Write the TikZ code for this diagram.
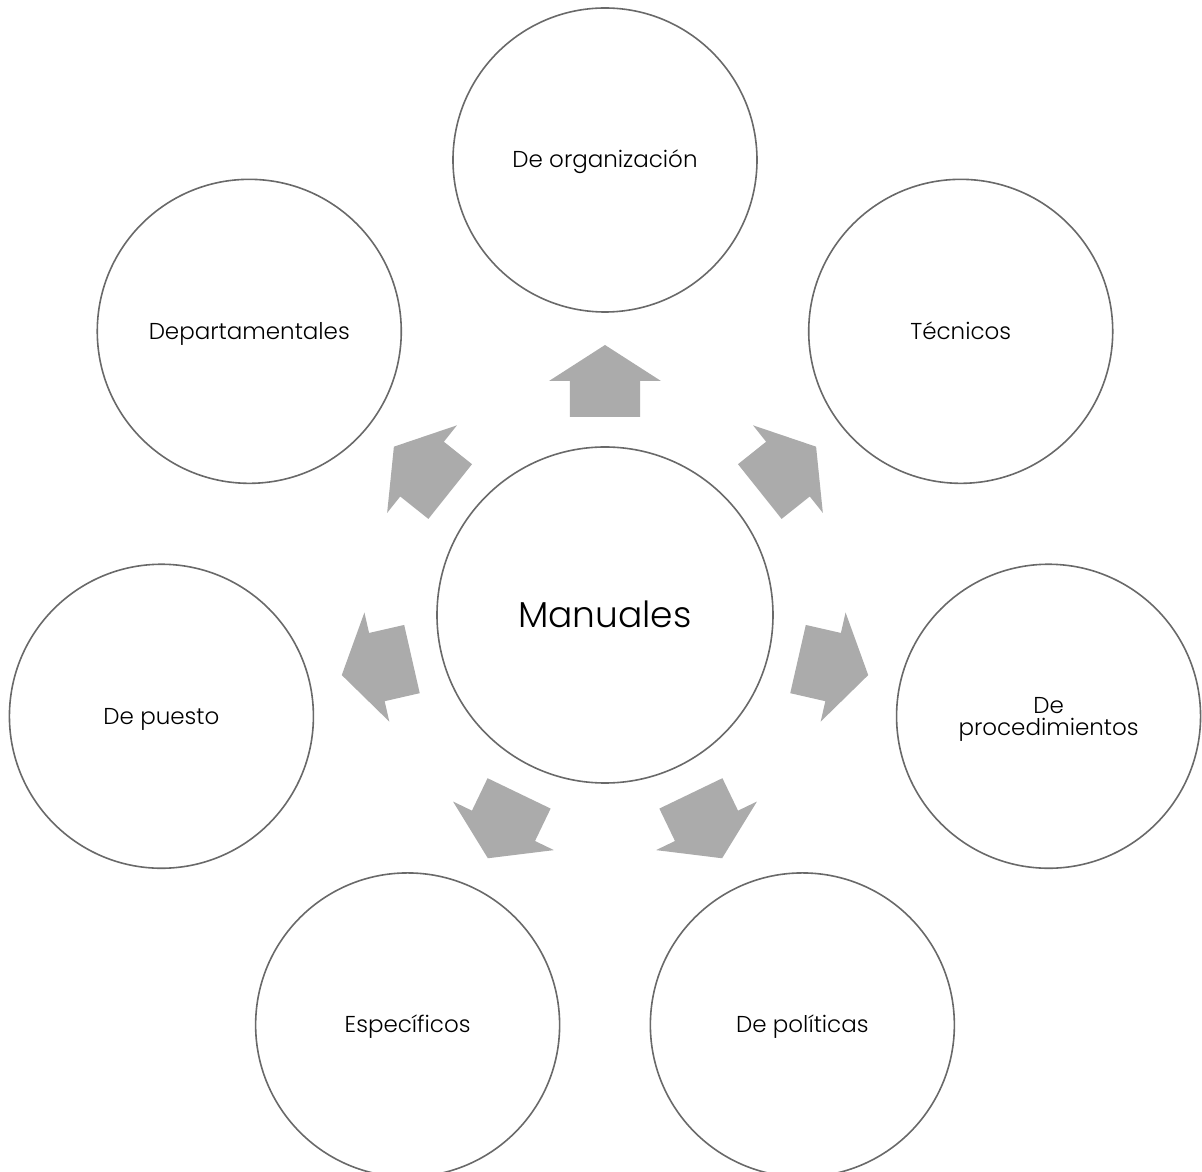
\documentclass[tikz,border=0pt]{standalone}
\usepackage{fontspec}
\setmainfont{Poppins Light}
\definecolor{ringcol}{RGB}{105,105,105}
\definecolor{arrowcol}{RGB}{171,171,171}
\begin{document}
\begin{tikzpicture}[x=1pt,y=1pt,
  ring/.style={circle,draw=ringcol,line width=1.6pt,inner sep=0pt,align=center},
  hub/.style={ring,minimum size=336pt,font=\fontsize{36}{38}\selectfont,
    text height=25pt,text depth=0pt},
  leaf/.style={ring,minimum size=304pt,font=\fontsize{23}{22}\selectfont,
    text height=16pt,text depth=0pt},
  twoline/.style={text height=38pt,text depth=0pt},
  blockarrow/.style={fill=arrowcol,draw=none}]
\useasboundingbox (-605,615) rectangle (597,-557);

\node[hub] (hub) at (0,0) {Manuales};

\node[leaf]         (org)  at (90:455)      {De organización};
\node[leaf]         (tec)  at (38.57:455)   {Técnicos};
\node[leaf,twoline] (proc) at (-12.86:455)  {De\\procedimientos};
\node[leaf]         (pol)  at (-64.29:455)  {De políticas};
\node[leaf]         (esp)  at (-115.71:455) {Específicos};
\node[leaf]         (pue)  at (-167.14:455) {De puesto};
\node[leaf]         (dep)  at (141.43:455)  {Departamentales};

% outward block arrows between the hub and each leaf
\foreach \a in {90,38.57,-12.86,-64.29,-115.71,-167.14,141.43}{
  \fill[blockarrow,rotate=\a]
    (198,-35) -- (234,-35) -- (234,-56) -- (270,0) -- (234,56) -- (234,35) -- (198,35) -- cycle;
}
\end{tikzpicture}
\end{document}
